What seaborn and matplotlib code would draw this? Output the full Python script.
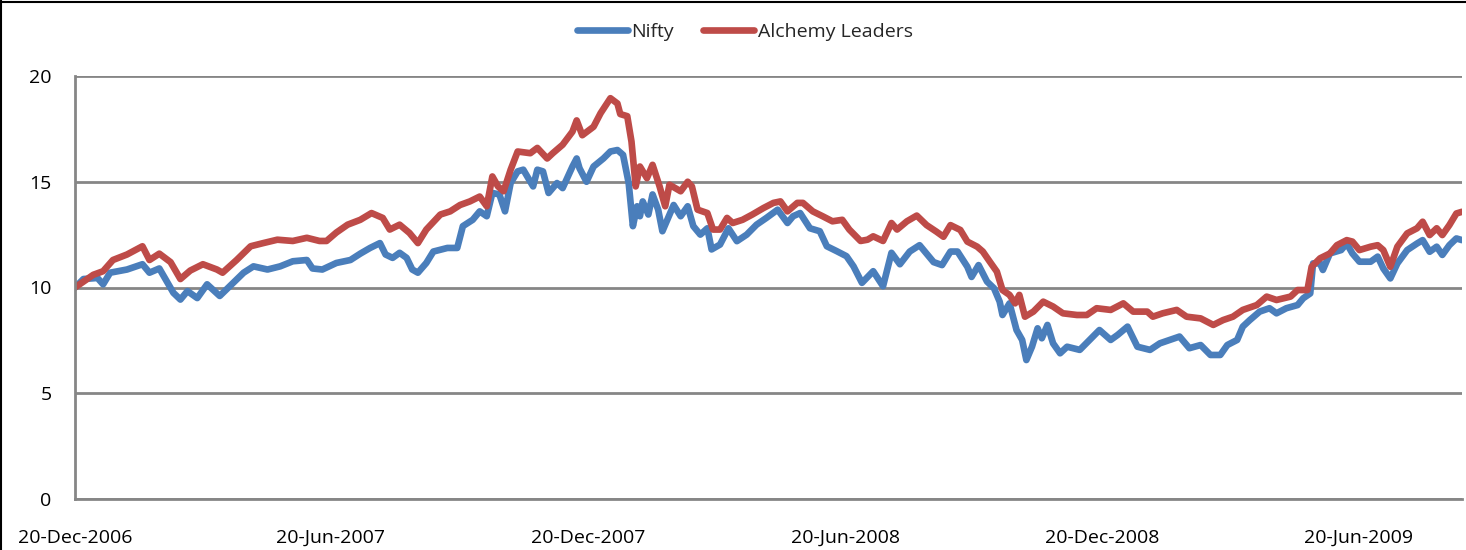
import matplotlib
matplotlib.use("Agg")
import matplotlib.pyplot as plt
import matplotlib.dates as mdates
from matplotlib.lines import Line2D
import numpy as np
import pandas as pd
import seaborn as sns

START = "2006-12-20"

# Day offsets from 20-Dec-2006 and index values (base 10)
nifty_days = [0, 6, 16, 20, 25, 37, 48, 53, 60, 70, 75, 80, 87, 94, 103, 110, 120, 127, 137, 146,
              155, 165, 169, 176, 186, 196, 203, 210, 217, 221, 226, 231, 236, 240, 244, 250, 255,
              265, 272, 276, 283, 288, 293, 297, 302, 306, 310, 315, 319, 326, 329, 333, 337, 343,
              347, 354, 357, 359, 364, 369, 376, 381, 386, 390, 394, 397, 400, 402, 404, 408, 411,
              415, 418, 426, 431, 436, 440, 445, 450, 453, 459, 465, 471, 478, 485, 492, 500, 507,
              511, 516, 523, 530, 535, 542, 549, 554, 560, 568, 575, 581, 587, 594, 601, 606, 611,
              617, 623, 628, 635, 638, 643, 649, 654, 658, 660, 665, 670, 674, 677, 681, 685, 688,
              692, 696, 701, 706, 715, 722, 729, 737, 742, 749, 756, 765, 772, 779, 786, 793, 801,
              808, 815, 820, 827, 831, 836, 843, 850, 855, 862, 870, 874, 879, 881, 886, 888, 893,
              901, 905, 909, 914, 922, 927, 931, 936, 941, 948, 955, 959, 964, 969, 973, 978, 983, 987]
nifty_vals = [10.0, 10.4, 10.45, 10.15, 10.7, 10.85, 11.1, 10.7, 10.9, 9.75, 9.43, 9.83, 9.5, 10.15,
              9.6, 10.05, 10.7, 11.0, 10.85, 11.0, 11.24, 11.3, 10.9, 10.85, 11.16, 11.3, 11.6, 11.87,
              12.1, 11.56, 11.4, 11.64, 11.4, 10.85, 10.7, 11.16, 11.7, 11.87, 11.87, 12.9, 13.2, 13.6,
              13.37, 14.47, 14.4, 13.6, 14.94, 15.49, 15.57, 14.78, 15.57, 15.49, 14.47, 14.94, 14.7,
              15.72, 16.1, 15.64, 15.0, 15.72, 16.1, 16.43, 16.5, 16.27, 14.94, 12.9, 13.84, 13.37,
              14.07, 13.45, 14.4, 13.68, 12.66, 13.9, 13.37, 13.84, 12.9, 12.5, 12.8, 11.8, 12.03,
              12.8, 12.19, 12.5, 12.97, 13.29, 13.68, 13.05, 13.37, 13.52, 12.8, 12.66, 11.95, 11.72,
              11.48, 11.0, 10.22, 10.77, 10.06, 11.64, 11.1, 11.7, 12.0, 11.6, 11.2, 11.06, 11.7, 11.7,
              10.98, 10.5, 11.06, 10.28, 9.96, 9.33, 8.7, 9.25, 7.99, 7.52, 6.57, 7.2, 8.07, 7.6, 8.23,
              7.36, 6.89, 7.2, 7.05, 7.52, 7.99, 7.52, 7.76, 8.15, 7.2, 7.05, 7.36, 7.52, 7.68, 7.13,
              7.28, 6.81, 6.81, 7.28, 7.52, 8.15, 8.46, 8.86, 9.02, 8.78, 9.02, 9.17, 9.49, 9.72, 11.14,
              11.14, 10.83, 11.61, 11.77, 12.08, 11.61, 11.22, 11.22, 11.46, 10.9, 10.43, 11.14, 11.77,
              12.08, 12.24, 11.69, 11.93, 11.54, 12.0, 12.32, 12.24]

alchemy_days = [0, 13, 20, 27, 37, 48, 53, 60, 68, 75, 82, 91, 101, 105, 115, 125, 134, 144, 155, 165,
                174, 179, 186, 194, 203, 211, 219, 224, 231, 238, 244, 250, 260, 267, 274, 281, 288,
                293, 297, 301, 305, 310, 315, 324, 329, 336, 340, 347, 354, 357, 361, 369, 374, 381,
                386, 388, 393, 396, 399, 402, 407, 411, 416, 420, 423, 431, 436, 439, 443, 450, 454,
                459, 464, 468, 475, 482, 490, 497, 502, 507, 514, 518, 525, 532, 539, 546, 551, 559,
                564, 568, 575, 581, 585, 592, 599, 606, 613, 618, 623, 630, 635, 642, 646, 651, 656,
                660, 665, 669, 672, 676, 682, 689, 696, 703, 713, 720, 727, 737, 746, 753, 763, 767,
                774, 784, 791, 801, 810, 817, 824, 831, 841, 848, 855, 865, 870, 877, 880, 886, 893,
                898, 905, 909, 914, 922, 927, 931, 936, 941, 948, 955, 959, 964, 969, 973, 978, 983, 987]
alchemy_vals = [10.0, 10.6, 10.77, 11.3, 11.56, 11.95, 11.3, 11.6, 11.2, 10.4, 10.8, 11.1, 10.85, 10.7,
                11.3, 11.95, 12.1, 12.26, 12.2, 12.35, 12.2, 12.2, 12.6, 12.97, 13.2, 13.52, 13.29,
                12.74, 12.97, 12.58, 12.1, 12.74, 13.45, 13.6, 13.9, 14.07, 14.3, 13.84, 15.25, 14.78,
                14.55, 15.57, 16.43, 16.35, 16.6, 16.1, 16.35, 16.75, 17.37, 17.9, 17.2, 17.6, 18.24,
                18.95, 18.7, 18.2, 18.1, 16.9, 14.78, 15.72, 15.17, 15.8, 14.78, 13.84, 14.86, 14.55,
                15.0, 14.78, 13.68, 13.52, 12.74, 12.74, 13.29, 13.05, 13.2, 13.45, 13.76, 14.0, 14.07,
                13.6, 14.0, 14.0, 13.6, 13.37, 13.13, 13.2, 12.74, 12.2, 12.26, 12.42, 12.2, 13.05,
                12.74, 13.13, 13.4, 12.95, 12.64, 12.4, 12.95, 12.72, 12.17, 11.93, 11.7, 11.22, 10.75,
                9.88, 9.65, 9.25, 9.65, 8.62, 8.86, 9.33, 9.1, 8.78, 8.7, 8.7, 9.02, 8.94, 9.25, 8.86,
                8.86, 8.62, 8.78, 8.94, 8.62, 8.54, 8.23, 8.46, 8.62, 8.94, 9.17, 9.57, 9.41, 9.57,
                9.88, 9.88, 10.98, 11.38, 11.61, 12.0, 12.24, 12.17, 11.77, 11.93, 12.0, 11.77, 10.98,
                11.93, 12.56, 12.8, 13.11, 12.48, 12.8, 12.48, 12.95, 13.5, 13.58]

series_names = ["Nifty", "Alchemy Leaders"]
series_colors = ["#4A7EBB", "#BE4B48"]
tick_dates = ["2006-12-20", "2007-06-20", "2007-12-20", "2008-06-20", "2008-12-20", "2009-06-20"]
y_ticks = [0, 5, 10, 15, 20]

start = pd.Timestamp(START)
df = pd.concat([
    pd.DataFrame({"date": start + pd.to_timedelta(nifty_days, unit="D"),
                  "value": nifty_vals, "series": series_names[0]}),
    pd.DataFrame({"date": start + pd.to_timedelta(alchemy_days, unit="D"),
                  "value": alchemy_vals, "series": series_names[1]}),
], ignore_index=True)

sns.set_style("white")
plt.rcParams["font.family"] = ["Open Sans", "DejaVu Sans"]

W, H = 1466, 550
fig = plt.figure(figsize=(W / 100, H / 100), dpi=100)
ax = fig.add_axes([75 / W, 1 - 499 / H, (1462 - 75) / W, (499 - 76) / H])

sns.lineplot(data=df, x="date", y="value", hue="series", hue_order=series_names,
             palette=series_colors, linewidth=4.8, ax=ax, legend=False,
             estimator=None, sort=False)

grid_c = "#868686"
ax.set_ylim(0, 20)
ax.set_xlim(start, start + pd.Timedelta(days=max(nifty_days[-1], alchemy_days[-1])))
ax.set_yticks(y_ticks)
ax.set_yticklabels([str(t) for t in y_ticks])
ax.set_xticks(pd.to_datetime(tick_dates))
ax.xaxis.set_major_formatter(mdates.DateFormatter("%d-%b-%Y"))
ax.yaxis.grid(True, color=grid_c, linewidth=2)
ax.xaxis.grid(False)
ax.set_axisbelow(True)
for s in ["top", "right"]:
    ax.spines[s].set_visible(False)
for s in ["left", "bottom"]:
    ax.spines[s].set_color(grid_c)
    ax.spines[s].set_linewidth(2)
ax.tick_params(axis="y", length=7, width=2, color=grid_c, pad=10, labelsize=14, labelcolor="black")
ax.tick_params(axis="x", length=5, width=2, color=grid_c, pad=16.5, labelsize=14, labelcolor="black")
ax.set_xlabel("")
ax.set_ylabel("")

handles = [Line2D([], [], color=c, linewidth=4.8, solid_capstyle="round") for c in series_colors]
fig.legend(handles, series_names, loc="center", bbox_to_anchor=(745 / W, 1 - 32 / H),
           ncol=2, frameon=False, fontsize=14, handlelength=2.6, handletextpad=0.2,
           columnspacing=1.5)

# outer chart border (left and top visible)
fig.add_artist(Line2D([0.5 / W, 0.5 / W], [0, 1], transform=fig.transFigure, color="black", lw=1.5))
fig.add_artist(Line2D([0, 1], [1 - 1.5 / H, 1 - 1.5 / H], transform=fig.transFigure, color="black", lw=1.5))

fig.savefig("out.png", dpi=100)
